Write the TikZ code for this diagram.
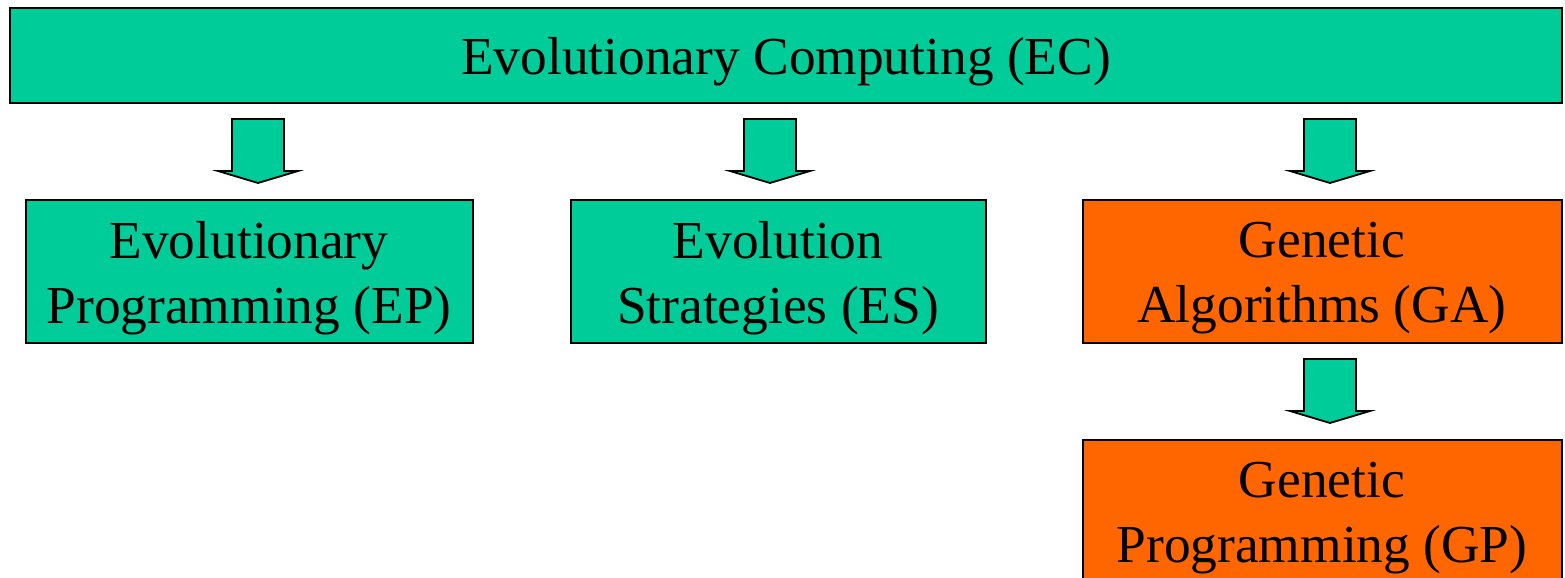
\documentclass[tikz,border=0pt]{standalone}
\usepackage{fontspec}
\setmainfont{Liberation Serif}
\definecolor{ecgreen}{RGB}{0,204,153}
\definecolor{ecorange}{RGB}{255,102,0}
\begin{document}
\begin{tikzpicture}[x=0.5pt,y=-0.5pt,
  box/.style={draw=black,line width=1pt,inner sep=0pt},
  greenbox/.style={box,fill=ecgreen},
  orangebox/.style={box,fill=ecorange},
  boxtext/.style={label={[align=center,inner sep=0pt,yshift=-3.5pt,
    font=\fontsize{26.7}{32.5}\selectfont]center:#1}},
  blockarrow/.style={draw=black,fill=ecgreen,line width=0.9pt,line join=miter}]
\useasboundingbox (0,0) rectangle (1565,578);
\clip (0,0) rectangle (1565,578);
\node[greenbox,minimum width=776pt,minimum height=47.5pt,
  boxtext={Evolutionary Computing (EC)}] (ec) at (786,55) {};
\node[greenbox,minimum width=223.5pt,minimum height=71.5pt,
  boxtext={Evolutionary\\Programming (EP)}] (ep) at (249,271) {};
\node[greenbox,minimum width=207.5pt,minimum height=71.5pt,
  boxtext={Evolution\\Strategies (ES)}] (es) at (778,271) {};
\node[orangebox,minimum width=239.5pt,minimum height=71.5pt,
  boxtext={Genetic\\Algorithms (GA)}] (ga) at (1322,271) {};
\node[orangebox,minimum width=239.5pt,minimum height=71.5pt,
  boxtext={Genetic\\Programming (GP)}] (gp) at (1322,511) {};
\foreach \cx/\ty in {258/119, 770/119, 1330/119, 1330/359}{
  \draw[blockarrow] ({\cx-26},\ty) -- ({\cx+26},\ty) -- ({\cx+26},{\ty+52})
    -- ({\cx+40},{\ty+52}) -- (\cx,{\ty+64}) -- ({\cx-40},{\ty+52})
    -- ({\cx-26},{\ty+52}) -- cycle;
}
\end{tikzpicture}
\end{document}
